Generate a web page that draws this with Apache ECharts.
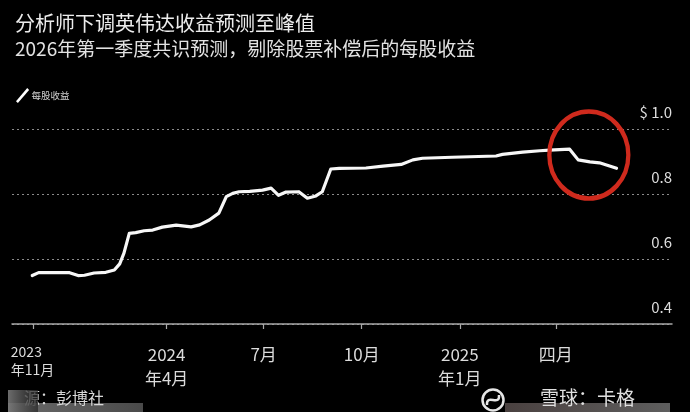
<!DOCTYPE html>
<html>
<head>
<meta charset="utf-8">
<script src="https://cdn.jsdelivr.net/npm/echarts@6/dist/echarts.min.js"></script>
<style>
html,body{margin:0;padding:0;background:#000;}
#c{width:690px;height:412px;}
</style>
</head>
<body>
<div id="c"></div>
<script>
// ---- data ----
const titleText = '分析师下调英伟达收益预测至峰值';
const subtitleText = '2026年第一季度共识预测，剔除股票补偿后的每股收益';
const seriesName = '每股收益';
const dates = [
  '2023-11-27','2023-12-03','2024-01-01','2024-01-09','2024-01-15','2024-01-24','2024-02-04',
  '2024-02-12','2024-02-17','2024-02-21','2024-02-26','2024-03-03','2024-03-11','2024-03-19',
  '2024-03-28','2024-04-10','2024-04-16','2024-04-24','2024-05-02','2024-05-11','2024-05-20',
  '2024-05-27','2024-06-02','2024-06-08','2024-06-18','2024-06-30','2024-07-08','2024-07-15',
  '2024-07-22','2024-08-03','2024-08-11','2024-08-19','2024-08-25','2024-09-02','2024-09-10',
  '2024-10-05','2024-10-21','2024-11-07','2024-11-18','2024-11-27','2024-12-25','2025-02-04',
  '2025-02-10','2025-03-01','2025-03-17','2025-03-26','2025-04-14','2025-04-22','2025-05-03',
  '2025-05-12','2025-05-28'
];
const eps = [
  0.549,0.558,0.558,0.549,0.550,0.557,0.559,
  0.566,0.585,0.618,0.679,0.681,0.687,0.689,
  0.698,0.704,0.702,0.699,0.705,0.720,0.741,
  0.792,0.802,0.807,0.808,0.812,0.818,0.796,
  0.806,0.807,0.787,0.794,0.807,0.877,0.879,
  0.880,0.886,0.891,0.905,0.910,0.913,0.917,
  0.922,0.929,0.933,0.935,0.938,0.905,0.899,
  0.896,0.879
];
const tickDates = ['2023-11-28','2024-04-01','2024-07-01','2024-10-01','2025-01-01','2025-04-01'];
const tickLabels = ['2023\n年11月','2024\n年4月','7月','10月','2025\n年1月','四月'];
const xMin = '2023-11-08';
const xMax = '2025-07-19';
const yTicks = [0.4, 0.6, 0.8, 1.0];
const highlightPoint = ['2025-05-02', 0.92];
const sourceText = '源：彭博社';
const watermarkText = '雪球：卡格';

// ---- helpers: dates -> day numbers (value axis) ----
function ts(s){ const p = s.split('-'); return Date.UTC(+p[0], +p[1]-1, +p[2]); }
const ORIGIN = ts(xMin);
function day(s){ return Math.round((ts(s) - ORIGIN) / 86400000); }
const tickDays = tickDates.map(day);
const seriesData = dates.map((d,i)=>[day(d), eps[i]]);
const FONT = '"Noto Sans CJK SC","Noto Sans",sans-serif';

const chart = echarts.init(document.getElementById('c'));
chart.setOption({
  animation: false,
  backgroundColor: '#000',
  textStyle: { fontFamily: FONT },
  title: {
    left: 10, top: 7, itemGap: 4,
    text: titleText,
    subtext: subtitleText,
    textStyle: { color: '#ececec', fontSize: 20, fontWeight: 'normal', lineHeight: 22, fontFamily: FONT },
    subtextStyle: { color: '#e2e2e2', fontSize: 19, lineHeight: 22, fontFamily: FONT }
  },
  legend: {
    left: 11, top: 83,
    itemWidth: 14, itemHeight: 15,
    icon: 'path://M0,14 L12,0 L14,2 L2,16 Z',
    data: [{ name: seriesName, itemStyle: { color: '#fff' } }],
    textStyle: { color: '#cfcfcf', fontSize: 9.5, padding: [0,0,6,-3], fontFamily: FONT }
  },
  grid: { left: 12, right: 18, top: 129, bottom: 88, containLabel: false },
  xAxis: {
    type: 'value',
    min: 0, max: day(xMax),
    splitLine: { show: false },
    axisLine: { show: true, lineStyle: { color: '#a8a8a8', width: 1.5 } },
    axisTick: { show: true, customValues: tickDays, length: 5, lineStyle: { color: '#a8a8a8', width: 1.2 } },
    axisLabel: {
      customValues: tickDays,
      color: '#dcdcdc', fontSize: 17, lineHeight: 24, margin: 19,
      fontFamily: FONT,
      formatter: function(v){
        const idx = tickDays.indexOf(Math.round(v));
        if (idx < 0) return '';
        if (idx === 0) {
          return tickLabels[0].split('\n').map(s => '{a|' + s + '}').join('\n');
        }
        return tickLabels[idx];
      },
      rich: {
        a: { fontSize: 14, lineHeight: 18, color: '#dcdcdc', width: 45, align: 'left', fontFamily: FONT }
      }
    }
  },
  yAxis: {
    type: 'value',
    position: 'right',
    min: yTicks[0], max: yTicks[yTicks.length-1], interval: 0.2,
    axisLine: { show: false },
    axisTick: { show: false },
    splitLine: { show: true, lineStyle: { color: '#8a8a8a', type: [2,3], width: 1 } },
    axisLabel: {
      inside: true, margin: 0,
      color: '#dedede', fontSize: 15,
      verticalAlign: 'bottom',
      padding: [0,0,9,0],
      fontFamily: FONT,
      formatter: function(v){
        const s = v.toFixed(1);
        return Math.abs(v - 1.0) < 1e-9 ? '$ ' + s : s;
      }
    }
  },
  series: [{
    name: seriesName,
    type: 'line',
    data: seriesData,
    showSymbol: false,
    symbol: 'none',
    lineStyle: { color: '#f7f7f7', width: 3.2, cap: 'round', join: 'round' },
    itemStyle: { color: '#fff' },
    markPoint: {
      silent: true,
      symbol: 'circle',
      symbolSize: [79, 87],
      label: { show: false },
      itemStyle: { color: 'rgba(0,0,0,0)', borderColor: '#cf2a1d', borderWidth: 4.5 },
      data: [{ coord: [day(highlightPoint[0]), highlightPoint[1]] }]
    }
  }],
  graphic: [
    { type: 'rect', shape: { x: 8, y: 403, width: 135, height: 9 },
      style: { fill: new echarts.graphic.LinearGradient(0,0,1,0,[{offset:0,color:'#6a6a6a'},{offset:1,color:'#4a4a4a'}]) }, z: 1 },
    { type: 'text', x: 24, y: 390, z: 2,
      style: { text: sourceText, fill: '#d8d8d8', font: '16px ' + FONT } },
    { type: 'rect', shape: { x: 8, y: 390, width: 30, height: 22 },
      style: { fill: new echarts.graphic.LinearGradient(0,0,1,0,[{offset:0,color:'rgba(120,120,120,0.9)'},{offset:1,color:'rgba(40,40,40,0.75)'}]) }, z: 3 },
    { type: 'rect', shape: { x: 505, y: 403, width: 165, height: 9 },
      style: { fill: new echarts.graphic.LinearGradient(0,0,1,0,[{offset:0,color:'#4a4140'},{offset:1,color:'#5e5e5e'}]) }, z: 1 },
    { type: 'circle', shape: { cx: 493, cy: 400, r: 10.5 },
      style: { fill: 'none', stroke: '#e6e6e6', lineWidth: 2.5 }, z: 2 },
    { type: 'bezierCurve', z: 2,
      shape: { x1: 487, y1: 405, cpx1: 486, cpy1: 393, cpx2: 500, cpy2: 407, x2: 499, y2: 395 },
      style: { fill: 'none', stroke: '#e6e6e6', lineWidth: 2.5 } },
    { type: 'text', x: 540, y: 388, z: 2,
      style: { text: watermarkText, fill: '#e0e0e0', font: '19px ' + FONT } }
  ]
});
</script>
</body>
</html>
